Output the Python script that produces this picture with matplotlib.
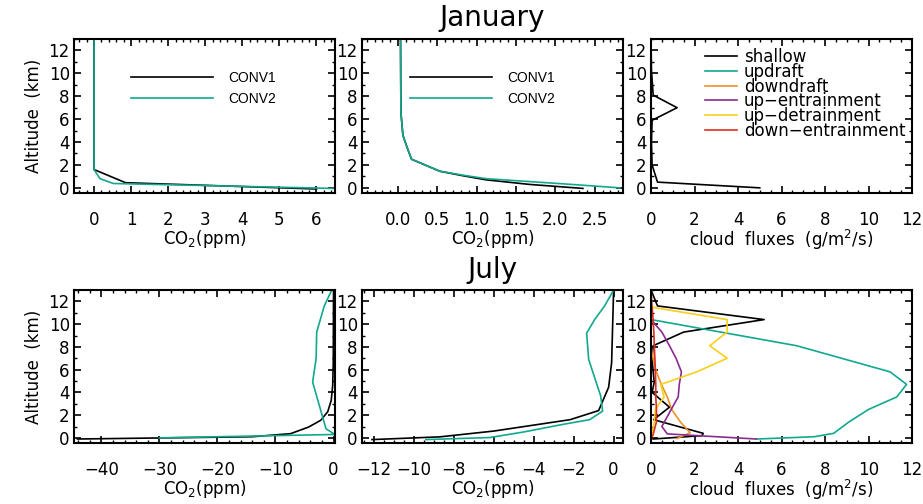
import numpy as np
import matplotlib
matplotlib.use("Agg")
import matplotlib.pyplot as plt
from matplotlib.ticker import MultipleLocator, AutoMinorLocator

plt.rcParams.update({
    "font.family": "DejaVu Sans",
    "font.size": 12,
    "axes.linewidth": 1.5,
    "xtick.direction": "in",
    "ytick.direction": "in",
    "xtick.major.size": 5,
    "ytick.major.size": 5,
    "xtick.minor.size": 2.5,
    "ytick.minor.size": 2.5,
    "xtick.major.width": 1.2,
    "ytick.major.width": 1.2,
    "xtick.minor.width": 1.0,
    "ytick.minor.width": 1.0,
    "lines.linewidth": 1.2,
    "mathtext.default": "regular",
})

TEAL = "#12a88f"
ORANGE = "#f0902a"
PURPLE = "#8a2b8f"
YELLOW = "#f8d01c"
RED = "#de2f1f"

# ---- January CO2 profiles (ppm vs km)
jan_c1_x = [0.0, 0.0, 0.85, 6.0]
jan_c1_z = [13.0, 1.6, 0.45, -0.1]
jan_c2_x = [0.0, 0.0, 0.16, 0.52, 6.45]
jan_c2_z = [13.0, 1.6, 0.8, 0.38, -0.05]

jan_tr_c1_x = [0.03, 0.035, 0.06, 0.11, 0.17, 0.53, 0.83, 1.12, 1.67, 2.35]
jan_tr_c1_z = [13.0, 6.6, 4.6, 3.6, 2.5, 1.45, 1.05, 0.7, 0.3, -0.05]
jan_tr_c2_x = [0.03, 0.035, 0.06, 0.11, 0.17, 0.53, 0.83, 1.12, 2.1, 2.82]
jan_tr_c2_z = [13.0, 6.6, 4.6, 3.6, 2.5, 1.45, 1.1, 0.8, 0.35, 0.0]

# ---- January cloud fluxes (g/m2/s)
jan_shallow_x = [0.0, 0.02, 0.1, 1.2, 0.05, 0.02, 0.05, 0.3, 5.0]
jan_shallow_z = [13.0, 10.3, 8.1, 7.0, 5.9, 4.0, 2.0, 0.5, 0.0]
jan_zero_x = [0.0, 0.0]
jan_zero_z = [13.0, 0.0]

# ---- July CO2 profiles
jul_c1_x = [0.0, -0.05, -0.15, -0.4, -1.0, -2.2, -4.3, -7.4, -14.0, -44.1]
jul_c1_z = [13.0, 6.5, 4.6, 3.3, 2.3, 1.55, 0.95, 0.37, 0.1, -0.1]
jul_c2_x = [-0.3, -1.6, -2.9, -3.0, -3.6, -1.3, 0.25, -30.0]
jul_c2_z = [13.0, 11.6, 9.3, 7.0, 4.9, 0.8, 0.3, 0.0]

jul_tr_c1_x = [0.0, -0.1, -0.25, -0.75, -2.18, -6.0, -8.7, -12.1]
jul_tr_c1_z = [13.0, 6.6, 4.45, 2.4, 1.6, 0.6, 0.09, -0.15]
jul_tr_c2_x = [0.0, -0.45, -0.95, -1.35, -1.25, -0.65, -0.55, -1.2, -2.5, -4.5, -6.2, -9.4]
jul_tr_c2_z = [13.0, 11.6, 10.4, 9.2, 6.9, 3.7, 2.35, 1.6, 1.2, 0.52, 0.03, -0.15]

# ---- July cloud fluxes
jul_shallow_x = [0.0, 0.3, 5.2, 1.5, 0.1, 0.05, 0.1, 0.15, 0.05, 0.85, 0.12, 2.4, 2.35, 0.1]
jul_shallow_z = [13.0, 11.6, 10.4, 9.3, 8.1, 7.0, 5.8, 4.9, 4.0, 2.7, 1.6, 0.4, 0.2, -0.1]
jul_updraft_x = [0.0, 0.0, 6.7, 11.0, 11.75, 11.3, 10.0, 9.1, 8.4, 7.5, 4.85]
jul_updraft_z = [13.0, 10.4, 8.1, 5.8, 4.7, 3.6, 2.5, 1.4, 0.4, 0.1, -0.1]
jul_down_x = [0.0, 0.0, 0.1, 0.25, 0.5, 0.75, 0.95, 1.35, 1.8, 1.2]
jul_down_z = [13.0, 8.1, 6.9, 5.8, 4.6, 3.6, 2.5, 1.4, 0.45, -0.05]
jul_upent_x = [0.0, 0.0, 0.5, 0.85, 1.15, 1.4, 1.3, 1.25, 0.9, 0.5, 0.75, 4.85]
jul_upent_z = [13.0, 10.4, 9.3, 8.1, 7.0, 5.8, 4.7, 3.6, 2.4, 1.0, 0.35, -0.1]
jul_updet_x = [0.0, 0.0, 3.5, 3.5, 2.7, 3.5, 2.1, 0.45, 0.6, 0.2, 0.15, 0.05, 0.0]
jul_updet_z = [13.0, 11.5, 10.4, 9.3, 8.1, 7.0, 5.8, 4.7, 3.6, 2.5, 1.4, 0.3, 0.0]
jul_downent_x = [0.0, 0.05, 0.1, 0.13, 0.15, 0.18, 0.2, 0.22, 0.22, 0.25, 0.25, 0.1, 0.0]
jul_downent_z = [13.0, 11.5, 10.4, 9.3, 8.1, 7.0, 5.8, 4.7, 3.6, 2.5, 1.4, 0.3, -0.1]

flux_labels = ["shallow", "updraft", "downdraft", "up\u2212entrainment",
               "up\u2212detrainment", "down\u2212entrainment"]
flux_colors = ["black", TEAL, ORANGE, PURPLE, YELLOW, RED]


def style(ax, xlim, xmajor, nminor, xlabel):
    ax.set_xlim(xlim)
    ax.set_ylim(-0.45, 13)
    ax.xaxis.set_major_locator(MultipleLocator(xmajor))
    ax.xaxis.set_minor_locator(AutoMinorLocator(nminor))
    ax.yaxis.set_major_locator(MultipleLocator(2))
    ax.yaxis.set_minor_locator(MultipleLocator(1))
    ax.tick_params(which="both", top=True, right=True)
    ax.tick_params(axis="x", which="major", pad=13, labelsize=12)
    ax.tick_params(axis="y", which="major", pad=3, labelsize=12)
    ax.set_xlabel(xlabel, fontsize=12, labelpad=-1)


def co2_legend(ax, x0):
    ax.legend(loc="upper left", bbox_to_anchor=(x0, 0.79), frameon=False,
              borderpad=0, borderaxespad=0, handlelength=5.9, handletextpad=1.1,
              labelspacing=0.45, prop={"family": "Liberation Sans", "size": 10})


fig = plt.figure(figsize=(9.23, 5.04), dpi=100)
W, H = 923.0, 504.0
cols = [74, 362, 651]
pw = 261
rows = [(39, 193), (290, 443)]
axes = []
for (t, b) in rows:
    r = []
    for c in cols:
        r.append(fig.add_axes([c / W, 1 - b / H, pw / W, (b - t) / H]))
    axes.append(r)

co2_label = "CO$_2$(ppm)"
flux_label = "cloud  fluxes  (g/m$^2$/s)"

# January
ax = axes[0][0]
ax.plot(jan_c1_x, jan_c1_z, color="black", label="CONV1")
ax.plot(jan_c2_x, jan_c2_z, color=TEAL, label="CONV2")
style(ax, (-0.54, 6.5), 1, 5, co2_label)
co2_legend(ax, 0.218)

ax = axes[0][1]
ax.plot(jan_tr_c1_x, jan_tr_c1_z, color="black", label="CONV1")
ax.plot(jan_tr_c2_x, jan_tr_c2_z, color=TEAL, label="CONV2")
style(ax, (-0.46, 2.86), 0.5, 5, co2_label)
ax.xaxis.set_major_formatter(lambda v, p: f"{v:.1f}")
co2_legend(ax, 0.184)

ax = axes[0][2]
jan_flux = [(jan_shallow_x, jan_shallow_z)] + [(jan_zero_x, jan_zero_z)] * 5
for (x, z), lab, col in zip(jan_flux, flux_labels, flux_colors):
    ax.plot(x, z, color=col, label=lab)
style(ax, (0, 12), 2, 4, flux_label)
ax.legend(loc="upper left", bbox_to_anchor=(0.206, 0.94), frameon=False,
          borderpad=0, borderaxespad=0, handlelength=1.95, handletextpad=0.4,
          labelspacing=-0.2, fontsize=12)

# July
ax = axes[1][0]
ax.plot(jul_c1_x, jul_c1_z, color="black")
ax.plot(jul_c2_x, jul_c2_z, color=TEAL)
style(ax, (-44.7, 0.25), 10, 5, co2_label)

ax = axes[1][1]
ax.plot(jul_tr_c1_x, jul_tr_c1_z, color="black")
ax.plot(jul_tr_c2_x, jul_tr_c2_z, color=TEAL)
style(ax, (-12.6, 0.47), 2, 4, co2_label)

ax = axes[1][2]
jul_flux = [(jul_shallow_x, jul_shallow_z), (jul_updraft_x, jul_updraft_z),
            (jul_down_x, jul_down_z), (jul_upent_x, jul_upent_z),
            (jul_updet_x, jul_updet_z), (jul_downent_x, jul_downent_z)]
for (x, z), col in zip(jul_flux, flux_colors):
    ax.plot(x, z, color=col)
style(ax, (0, 12), 2, 4, flux_label)

for r in axes:
    r[0].set_ylabel("Altitude  (km)", fontsize=12, labelpad=4)

fig.text(492 / W, 1 - 18 / H, "January", fontsize=20, ha="center", va="center")
fig.text(492 / W, 1 - 270 / H, "July", fontsize=20, ha="center", va="center")

fig.savefig("out.png", dpi=100)
